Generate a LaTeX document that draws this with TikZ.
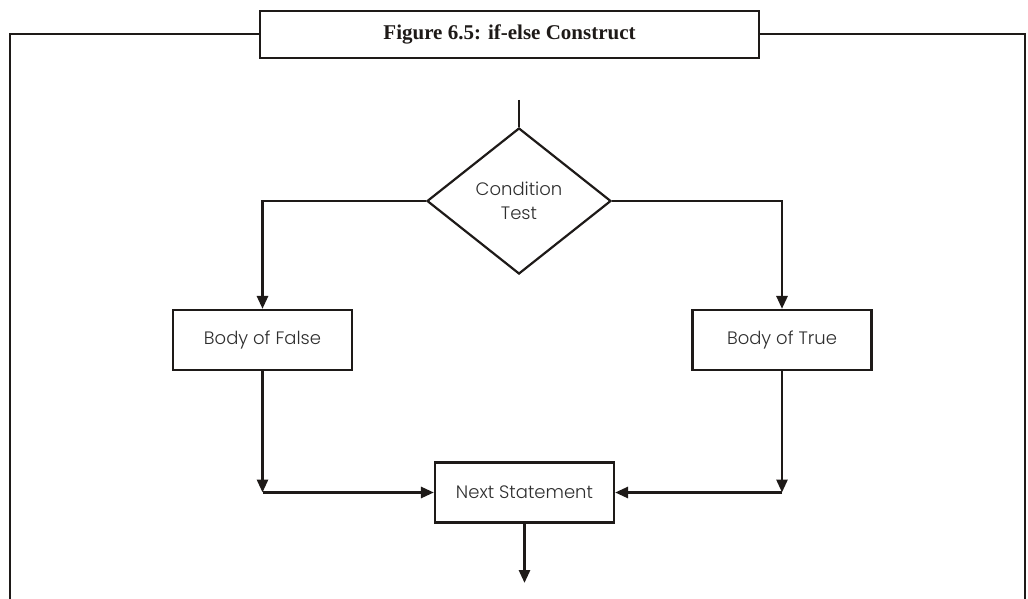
\documentclass[tikz,border=0pt]{standalone}
\usepackage{fontspec}
\setmainfont{Liberation Serif}
\newfontfamily\bodyfont{Poppins Light}
\usetikzlibrary{shapes.geometric,arrows.meta}
\definecolor{ink}{HTML}{1E1A18}
\definecolor{txt}{HTML}{2E2E2E}
\tikzset{
  frameline/.style={draw=ink, line width=2.4pt},
  stepbox/.style={draw=ink, line width=2.2pt, rectangle, minimum width=179pt,
    minimum height=60pt, inner sep=0pt, font=\bodyfont\fontsize{18}{22}\selectfont, text=txt},
  decision/.style={draw=ink, line width=2.2pt, diamond, minimum width=184pt,
    minimum height=146pt, inner sep=0pt, align=center,
    font=\bodyfont\fontsize{18}{24}\selectfont, text=txt},
  flow/.style={draw=ink, line width=2.8pt, -{Triangle[width=11pt,length=13pt]}},
  plain/.style={draw=ink, line width=2.8pt},
}
\begin{document}
\begin{tikzpicture}[x=1pt,y=-1pt]
  \useasboundingbox (0,0) rectangle (1028,599);
  % outer frame, open at the bottom
  \draw[frameline] (260,34) -- (10,34) -- (10,603);
  \draw[frameline] (759,34) -- (1025,34) -- (1025,603);
  % caption box
  \node[draw=ink, line width=2.4pt, minimum width=499pt, minimum height=47pt,
        inner sep=0pt, fill=white, font=\bfseries\fontsize{21}{24}\selectfont, text=ink]
        (caption) at (509.5,34.5) {Figure 6.5: if-else Construct};
  % flowchart nodes
  \node[decision] (cond) at (519,201) {Condition\\Test};
  \node[stepbox] (falsebox) at (262.5,340) {Body of False};
  \node[stepbox] (truebox) at (782,340) {Body of True};
  \node[stepbox] (nextbox) at (524.5,492.5) {Next Statement};
  \coordinate (entry) at (519,100);
  \coordinate (exit) at (524.5,583);
  \coordinate (lcorner) at (falsebox.south |- nextbox.west);
  \coordinate (rcorner) at (truebox.south |- nextbox.east);
  % connectors
  \draw[plain] (entry) -- (cond.north);
  \draw[flow] (cond.west) -| (falsebox.north);
  \draw[flow] (cond.east) -| (truebox.north);
  \draw[flow] (falsebox.south) -- (lcorner);
  \draw[flow] (lcorner) -- (nextbox.west);
  \draw[flow] (truebox.south) -- (rcorner);
  \draw[flow] (rcorner) -- (nextbox.east);
  \draw[flow] (nextbox.south) -- (exit);
\end{tikzpicture}
\end{document}
